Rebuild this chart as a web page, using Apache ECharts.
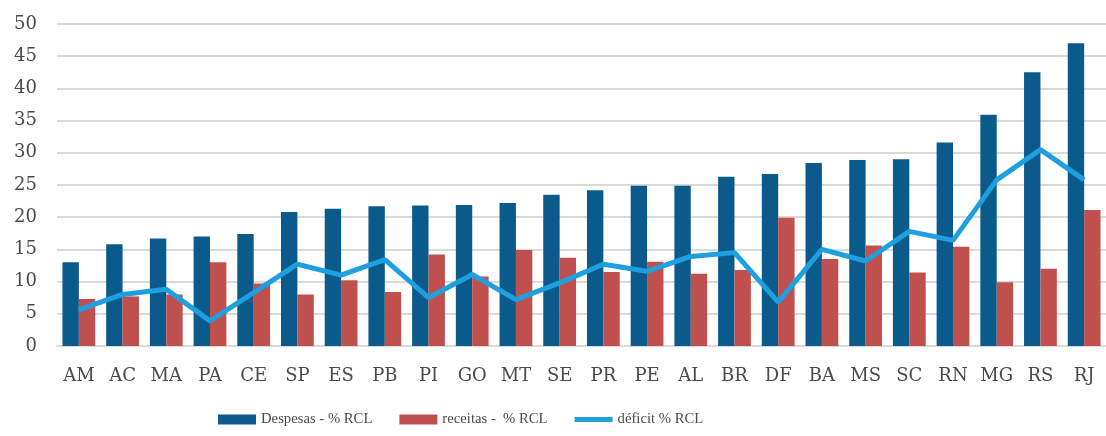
<!DOCTYPE html>
<html>
<head>
<meta charset="utf-8">
<script src="https://cdn.jsdelivr.net/npm/echarts@6/dist/echarts.min.js"></script>
<style>
  html, body { margin: 0; padding: 0; background: #ffffff; }
  #chart { width: 1106px; height: 436px; }
</style>
</head>
<body>
<div id="chart"></div>
<script>
// States (plus BR = Brasil), ordered by spending share
const estados = ['AM','AC','MA','PA','CE','SP','ES','PB','PI','GO','MT','SE','PR','PE','AL','BR','DF','BA','MS','SC','RN','MG','RS','RJ'];

// Despesas - % RCL
const despesas = [13.0, 15.8, 16.7, 17.0, 17.4, 20.8, 21.3, 21.7, 21.8, 21.9, 22.2, 23.5, 24.2, 24.9, 24.9, 26.3, 26.7, 28.4, 28.9, 29.0, 31.6, 35.9, 42.5, 47.0];

// receitas - % RCL
const receitas = [7.3, 7.7, 8.0, 13.0, 9.7, 8.0, 10.2, 8.4, 14.2, 10.8, 14.9, 13.7, 11.5, 13.1, 11.2, 11.8, 19.9, 13.5, 15.6, 11.4, 15.4, 9.9, 12.0, 21.1];

// déficit % RCL
const deficit = [5.6, 8.0, 8.8, 3.9, 8.3, 12.7, 11.0, 13.4, 7.5, 11.1, 7.2, 9.8, 12.7, 11.6, 13.9, 14.5, 6.8, 15.0, 13.2, 17.8, 16.4, 25.8, 30.5, 25.8];

const chart = echarts.init(document.getElementById('chart'), null, { renderer: 'canvas' });

const labelFont = 'DejaVu Serif';
const textColor = '#4a4a4a';

chart.setOption({
  animation: false,
  backgroundColor: '#ffffff',
  grid: { left: 57, top: 24, width: 1058, height: 322, containLabel: false },
  legend: {
    left: 213,
    top: 407,
    itemWidth: 38,
    itemHeight: 10,
    itemGap: 27,
    symbolKeepAspect: true,
    textStyle: { fontFamily: 'Liberation Serif', fontSize: 14.7, color: textColor },
    data: [
      { name: 'Despesas - % RCL', icon: 'rect' },
      { name: 'receitas -  % RCL', icon: 'rect' },
      { name: 'déficit % RCL', icon: 'path://M0,0H38V5H0Z' }
    ]
  },
  xAxis: {
    type: 'category',
    data: estados,
    axisLine: { show: true, lineStyle: { color: '#d9d9d9', width: 2 } },
    axisTick: { show: false },
    axisLabel: { fontFamily: labelFont, fontSize: 18, color: textColor, margin: 21, interval: 0 }
  },
  yAxis: {
    type: 'value',
    min: 0,
    max: 50,
    interval: 5,
    axisLine: { show: false },
    axisTick: { show: false },
    splitLine: { lineStyle: { color: '#d9d9d9', width: 2 } },
    axisLabel: { fontFamily: labelFont, fontSize: 18, color: textColor, margin: 20 }
  },
  series: [
    {
      name: 'Despesas - % RCL',
      type: 'bar',
      data: despesas,
      barGap: '0%',
      barCategoryGap: '25%',
      itemStyle: { color: '#0b5a8c' }
    },
    {
      name: 'receitas -  % RCL',
      type: 'bar',
      data: receitas,
      itemStyle: { color: '#c0504d' }
    },
    {
      name: 'déficit % RCL',
      type: 'line',
      data: deficit,
      symbol: 'none',
      lineStyle: { color: '#1e9fe0', width: 5 },
      itemStyle: { color: '#1e9fe0' },
      z: 5
    }
  ]
});
</script>
</body>
</html>
